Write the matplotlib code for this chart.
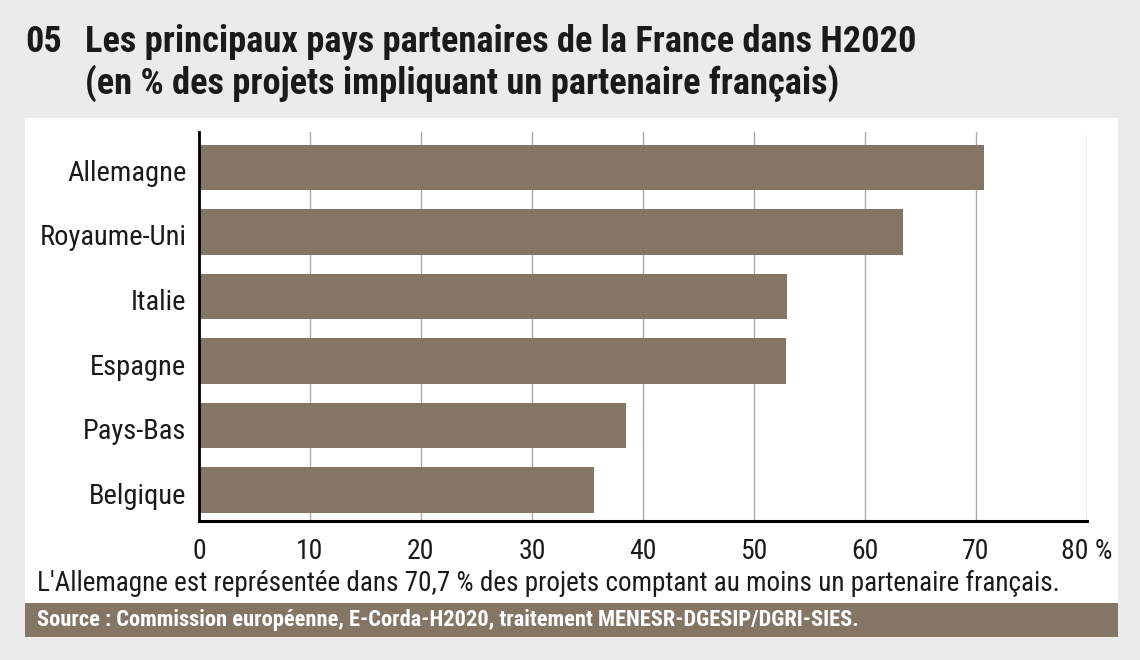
import matplotlib
matplotlib.use("Agg")
import matplotlib.pyplot as plt
from matplotlib.patches import Rectangle
from matplotlib.transforms import ScaledTranslation

pays = ["Allemagne", "Royaume-Uni", "Italie", "Espagne", "Pays-Bas", "Belgique"]
parts = [70.7, 63.4, 53.0, 52.9, 38.5, 35.6]
ticks = [0, 10, 20, 30, 40, 50, 60, 70, 80]
tick_labels = ["0", "10", "20", "30", "40", "50", "60", "70", "80 %"]

brun = "#857565"
encre = "#1a1a1a"
plt.rcParams["font.family"] = ["Roboto Condensed", "DejaVu Sans"]

W, H = 1140, 660
fig = plt.figure(figsize=(W / 100, H / 100), dpi=100, facecolor="#ebebeb")

# panneau blanc et bandeau source
fig.patches.append(Rectangle((25 / W, 1 - 603 / H), (1118 - 25) / W, (603 - 118) / H,
                             transform=fig.transFigure, facecolor="white", edgecolor="none", zorder=-2))
fig.patches.append(Rectangle((25 / W, 1 - 637 / H), (1118 - 25) / W, (637 - 603) / H,
                             transform=fig.transFigure, facecolor=brun, edgecolor="none", zorder=-2))

ax = fig.add_axes([199 / W, 1 - 521 / H, (1087 - 199) / W, (521 - 132) / H])
ax.set_facecolor("none")
y = list(range(len(pays)))
ax.barh(y, parts, height=0.71, color=brun, zorder=2)
ax.set_xlim(0, 80)
ax.set_ylim(5.48, -0.55)
ax.set_yticks(y)
ax.set_yticklabels(pays, fontsize=20.5, color=encre)
ax.set_xticks(ticks)
ax.set_xticklabels(tick_labels, fontsize=20, color=encre)
ax.tick_params(axis="both", length=0)
ax.tick_params(axis="x", pad=12)
ax.tick_params(axis="y", pad=9)
ax.grid(axis="x", color="#aaaaaa", linewidth=1, zorder=1)
for s in ["top", "right"]:
    ax.spines[s].set_visible(False)
ax.spines["left"].set_linewidth(2)
ax.spines["bottom"].set_linewidth(2.2)
ax.spines["left"].set_zorder(3)
ax.spines["bottom"].set_zorder(3)
decal = ScaledTranslation(0, -3 / 100, fig.dpi_scale_trans)
for lbl in ax.get_yticklabels():
    lbl.set_transform(lbl.get_transform() + decal)

fig.text(25 / W, 1 - 42 / H, "05", fontsize=26, fontweight="bold", va="center", color=encre)
fig.text(85 / W, 1 - 42 / H, "Les principaux pays partenaires de la France dans H2020",
         fontsize=26.2, fontweight="bold", va="center", color=encre)
fig.text(85 / W, 1 - 83 / H, "(en % des projets impliquant un partenaire français)",
         fontsize=26.2, fontweight="bold", va="center", color=encre)

fig.text(37 / W, 1 - 583 / H,
         "L'Allemagne est représentée dans 70,7 % des projets comptant au moins un partenaire français.",
         fontsize=19.5, va="center", color=encre)
fig.text(37 / W, 1 - 620 / H,
         "Source : Commission européenne, E-Corda-H2020, traitement MENESR-DGESIP/DGRI-SIES.",
         fontsize=16.2, fontweight="bold", va="center", color="white")

fig.savefig("out.png", dpi=100, facecolor=fig.get_facecolor())
